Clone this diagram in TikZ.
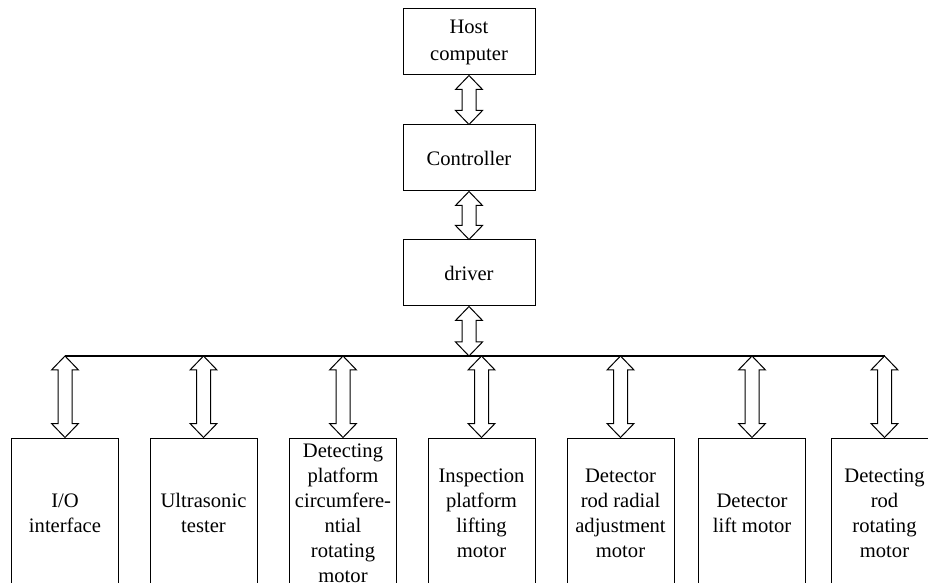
\documentclass[tikz,border=0pt]{standalone}
\usepackage{fontspec}
\setmainfont{Liberation Serif}
\usepackage{tikz}
\usetikzlibrary{calc}

\tikzset{
    blk/.style={draw, line width=0.5pt, inner sep=0pt, align=center,
        minimum width=66pt, minimum height=33pt, font=\fontsize{10.3}{13.5}\selectfont},
    unit/.style={blk, minimum width=53.5pt, minimum height=75pt, font=\fontsize{10.3}{12.5}\selectfont},
    % hollow double-headed arrow, drawn top to bottom
    dblarrow/.style={draw, line width=0.5pt, fill=white, to path={
        (\tikztostart) -- ++(-13.5,14) -- ++(6.5,0)
        -- ($(\tikztotarget)+(-7,-14)$) -- ++(-6.5,0) -- (\tikztotarget)
        -- ++(13.5,-14) -- ++(-6.5,0)
        -- ($(\tikztostart)+(7,14)$) -- ++(6.5,0) -- cycle}},
    bus/.style={draw, line width=1pt}
}

\begin{document}
\begin{tikzpicture}[x=0.5pt, y=-0.5pt]
    \useasboundingbox (0,0) rectangle (928,583);
    \clip (0,0) rectangle (928,583);

    \node[blk] (host) at (469,42) {Host\\computer};
    \node[blk] (ctrl) at (469,158) {Controller};
    \node[blk] (drv) at (469,273) {driver};
    \coordinate (bus) at (469,356);

    \node[unit] (io) at (65,513) {I/O\\interface};
    \node[unit] (ultra) at (203.5,513) {Ultrasonic\\tester};
    \node[unit] (circ) at (343,513) {Detecting\\platform\\circumfere-\\ntial\\rotating\\motor};
    \node[unit] (lift) at (481.5,513) {Inspection\\platform\\lifting\\motor};
    \node[unit] (radial) at (620.5,513) {Detector\\rod radial\\adjustment\\motor};
    \node[unit] (dlift) at (752,513) {Detector\\lift motor};
    \node[unit] (rot) at (884.5,513) {Detecting\\rod\\rotating\\motor};

    \draw[bus] (io.north |- bus) -- (rot.north |- bus);

    \draw[dblarrow] (host.south) to (ctrl.north);
    \draw[dblarrow] (ctrl.south) to (drv.north);
    \draw[dblarrow] (drv.south) to (bus);

    \draw[dblarrow] (io.north |- bus) to (io.north);
    \draw[dblarrow] (ultra.north |- bus) to (ultra.north);
    \draw[dblarrow] (circ.north |- bus) to (circ.north);
    \draw[dblarrow] (lift.north |- bus) to (lift.north);
    \draw[dblarrow] (radial.north |- bus) to (radial.north);
    \draw[dblarrow] (dlift.north |- bus) to (dlift.north);
    \draw[dblarrow] (rot.north |- bus) to (rot.north);
\end{tikzpicture}
\end{document}
